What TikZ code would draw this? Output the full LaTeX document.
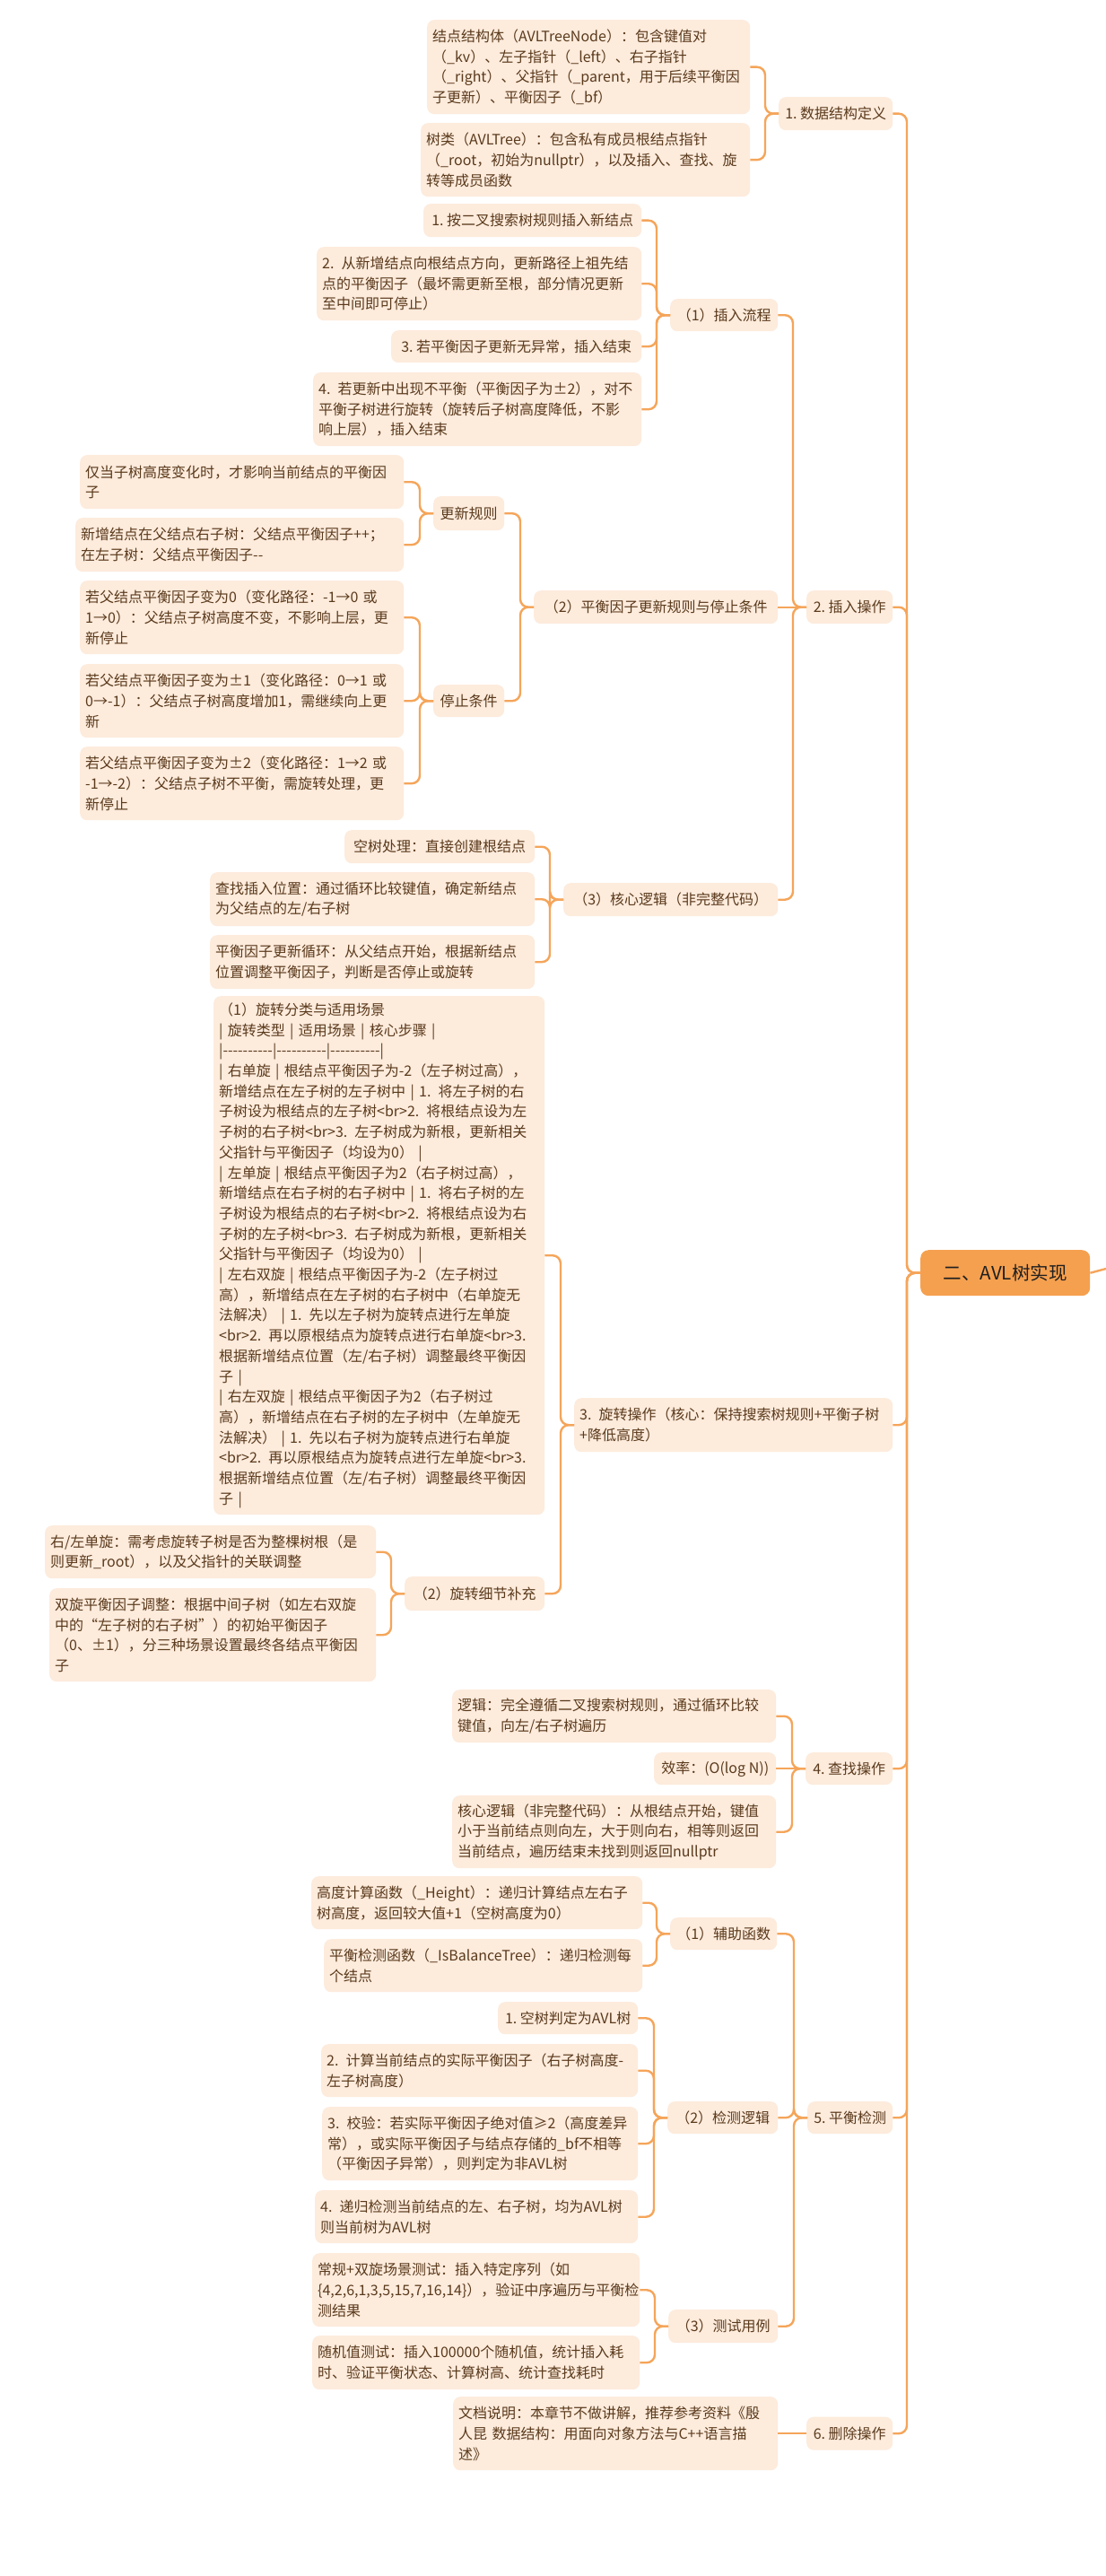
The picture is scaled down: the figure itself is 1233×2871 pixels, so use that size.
\documentclass[tikz,border=0pt]{standalone}
\usepackage{fontspec}
\newfontfamily\cjk[Ligatures=TeXOff]{Noto Sans CJK SC}
\definecolor{boxfill}{HTML}{FDEBDC}
\definecolor{txt}{HTML}{5A3A1C}
\definecolor{lnc}{HTML}{F5A55A}
\definecolor{rootfill}{HTML}{F5A04F}
\tikzset{
  box/.style={fill=boxfill, rounded corners=8pt, inner xsep=6pt, inner ysep=2pt,
    text=txt, font=\cjk\fontsize{16}{22.7}\selectfont},
  rootbox/.style={fill=rootfill, rounded corners=9pt, inner sep=4pt, align=center,
    text=black!88, font=\cjk\fontsize{20.5}{26}\selectfont},
  conn/.style={draw=lnc, line width=2.4pt, rounded corners=9pt}
}
% multi-line box: left, top, right, bottom
\newcommand{\bx}[6]{%
  \pgfmathsetmacro{\bxw}{#4-#2-12}%
  \pgfmathsetmacro{\bxh}{#5-#3}%
  \node[box, align=left, anchor=north west, text width=\bxw pt, minimum height=\bxh pt] (#1) at (#2,#3) {#6};}
% single-line box, centred text
\newcommand{\bs}[6]{%
  \pgfmathsetmacro{\bxw}{#4-#2}%
  \pgfmathsetmacro{\bxh}{#5-#3}%
  \node[box, align=center, anchor=north west, minimum width=\bxw pt, minimum height=\bxh pt] (#1) at (#2,#3) {#6};}
\newcommand{\cn}[2]{\draw[conn] (#1.east) -| ([xshift=-15pt]#2.west) -- (#2.west);}
\newcommand{\cnh}[2]{\draw[conn] (#1.east) -- (#1.east -| #2.west);}
\begin{document}
\begin{tikzpicture}[x=1pt,y=-1pt]
\fill[white] (0,0) rectangle (1233,2871);
\useasboundingbox (0,0) rectangle (1233,2871);

% root
\node[rootbox, anchor=north west, minimum width=189pt, minimum height=51pt] (root) at (1026,1393) {二、AVL树实现};
\coordinate (rootout) at (1233,1414);

% level 1
\bs{L1}{868}{108}{995}{145}{1.~数据结构定义}
\bs{L2}{899}{658}{995}{695}{2.~插入操作}
\bx{L3}{640}{1558}{995}{1618}{3. 旋转操作（核心：保持搜索树规则+平衡子树\\+降低高度）}
\bs{L4}{898}{1953}{995}{1989}{4.~查找操作}
\bs{L5}{900}{2342}{995}{2378}{5.~平衡检测}
\bs{L6}{899}{2693.5}{995}{2730.5}{6.~删除操作}

% 1. 数据结构定义
\bx{A1}{476}{22}{836}{127}{结点结构体（AVLTreeNode）：包含键值对\\（\_kv）、左子指针（\_left）、右子指针\\（\_right）、父指针（\_parent，用于后续平衡因\\子更新）、平衡因子（\_bf）}
\bx{A2}{469}{137}{836}{219}{树类（AVLTree）：包含私有成员根结点指针\\（\_root，初始为nullptr），以及插入、查找、旋\\转等成员函数}

% 2. 插入操作
\bs{P1}{747}{333}{867}{369}{（1）插入流程}
\bs{P2}{595}{658}{867}{695}{（2）平衡因子更新规则与停止条件}
\bs{P3}{628}{984}{867}{1021}{（3）核心逻辑（非完整代码）}

\bs{B1}{472}{227}{715}{264}{1.~按二叉搜索树规则插入新结点}
\bx{B2}{353}{275}{715}{357}{2. 从新增结点向根结点方向，更新路径上祖先结\\点的平衡因子（最坏需更新至根，部分情况更新\\至中间即可停止）}
\bs{B3}{436}{368}{715}{404}{3.~若平衡因子更新无异常，插入结束}
\bx{B4}{349}{415}{715}{497}{4. 若更新中出现不平衡（平衡因子为±2），对不\\平衡子树进行旋转（旋转后子树高度降低，不影\\响上层），插入结束}

\bs{Q1}{483}{553}{562}{591}{更新规则}
\bs{Q2}{483}{763}{562}{799}{停止条件}
\bx{C1}{89}{507}{450}{567}{仅当子树高度变化时，才影响当前结点的平衡因\\子}
\bx{C2}{84}{577}{450}{637}{新增结点在父结点右子树：父结点平衡因子++；\\在左子树：父结点平衡因子--}
\bx{C3}{89}{647}{450}{729}{若父结点平衡因子变为0（变化路径：-1→0 或\\1→0）：父结点子树高度不变，不影响上层，更\\新停止}
\bx{C4}{89}{740}{450}{822}{若父结点平衡因子变为±1（变化路径：0→1 或\\0→-1）：父结点子树高度增加1，需继续向上更\\新}
\bx{C5}{89}{832}{450}{914}{若父结点平衡因子变为±2（变化路径：1→2 或\\-1→-2）：父结点子树不平衡，需旋转处理，更\\新停止}

\bs{D1}{384}{925}{596}{962}{空树处理：直接创建根结点}
\bx{D2}{234}{972}{596}{1032}{查找插入位置：通过循环比较键值，确定新结点\\为父结点的左/右子树}
\bx{D3}{234}{1042}{596}{1102}{平衡因子更新循环：从父结点开始，根据新结点\\位置调整平衡因子，判断是否停止或旋转}

% 3. 旋转操作
\bx{R1}{238}{1110}{607}{1688}{（1）旋转分类与适用场景\\| 旋转类型 | 适用场景 | 核心步骤 |\\|----------|----------|----------|\\| 右单旋 | 根结点平衡因子为-2（左子树过高），\\新增结点在左子树的左子树中 | 1. 将左子树的右\\子树设为根结点的左子树<br>2. 将根结点设为左\\子树的右子树<br>3. 左子树成为新根，更新相关\\父指针与平衡因子（均设为0） |\\| 左单旋 | 根结点平衡因子为2（右子树过高），\\新增结点在右子树的右子树中 | 1. 将右子树的左\\子树设为根结点的右子树<br>2. 将根结点设为右\\子树的左子树<br>3. 右子树成为新根，更新相关\\父指针与平衡因子（均设为0） |\\| 左右双旋 | 根结点平衡因子为-2（左子树过\\高），新增结点在左子树的右子树中（右单旋无\\法解决） | 1. 先以左子树为旋转点进行左单旋\\<br>2. 再以原根结点为旋转点进行右单旋<br>3.\\根据新增结点位置（左/右子树）调整最终平衡因\\子 |\\| 右左双旋 | 根结点平衡因子为2（右子树过\\高），新增结点在右子树的左子树中（左单旋无\\法解决） | 1. 先以右子树为旋转点进行右单旋\\<br>2. 再以原根结点为旋转点进行左单旋<br>3.\\根据新增结点位置（左/右子树）调整最终平衡因\\子 |}
\bs{R2}{451}{1757}{607}{1795}{（2）旋转细节补充}
\bx{F1}{50}{1700}{419}{1759}{右/左单旋：需考虑旋转子树是否为整棵树根（是\\则更新\_root），以及父指针的关联调整}
\bx{F2}{55}{1770}{419}{1874}{双旋平衡因子调整：根据中间子树（如左右双旋\\中的“左子树的右子树”）的初始平衡因子\\（0、±1），分三种场景设置最终各结点平衡因\\子}

% 4. 查找操作
\bx{G1}{504}{1883}{865}{1942}{逻辑：完全遵循二叉搜索树规则，通过循环比较\\键值，向左/右子树遍历}
\bs{G2}{729}{1953}{865}{1989}{效率：(O(log~N))}
\bx{G3}{504}{2001}{865}{2082}{核心逻辑（非完整代码）：从根结点开始，键值\\小于当前结点则向左，大于则向右，相等则返回\\当前结点，遍历结束未找到则返回nullptr}

% 5. 平衡检测
\bs{S1}{747}{2137}{866}{2173}{（1）辅助函数}
\bs{S2}{744}{2342}{867}{2378}{（2）检测逻辑}
\bs{S3}{745}{2574}{867}{2611}{（3）测试用例}
\bx{H1}{347}{2091}{716}{2150}{高度计算函数（\_Height）：递归计算结点左右子\\树高度，返回较大值+1（空树高度为0）}
\bx{H2}{361}{2161}{716}{2220}{平衡检测函数（\_IsBalanceTree）：递归检测每\\个结点}
\bs{I1}{555}{2231}{711}{2267}{1.~空树判定为AVL树}
\bx{I2}{358}{2278}{711}{2337}{2. 计算当前结点的实际平衡因子（右子树高度-\\左子树高度）}
\bx{I3}{359}{2348}{711}{2430}{3. 校验：若实际平衡因子绝对值≥2（高度差异\\常），或实际平衡因子与结点存储的\_bf不相等\\（平衡因子异常），则判定为非AVL树}
\bx{I4}{351}{2441}{711}{2500}{4. 递归检测当前结点的左、右子树，均为AVL树\\则当前树为AVL树}
\bx{J1}{348}{2511}{713}{2593}{常规+双旋场景测试：插入特定序列（如\\\{4,2,6,1,3,5,15,7,16,14\}），验证中序遍历与平衡检\\测结果}
\bx{J2}{348}{2603}{713}{2663}{随机值测试：插入100000个随机值，统计插入耗\\时、验证平衡状态、计算树高、统计查找耗时}

% 6. 删除操作
\bx{K1}{505}{2671}{867}{2753}{文档说明：本章节不做讲解，推荐参考资料《殷\\人昆 数据结构：用面向对象方法与C++语言描\\述》}

% connectors
\draw[conn] (root.east) -- (rootout);
\cn{L1}{root}\cn{L2}{root}\cn{L3}{root}\cn{L4}{root}\cn{L5}{root}\cn{L6}{root}
\cn{A1}{L1}\cn{A2}{L1}
\cn{P1}{L2}\cnh{P2}{L2}\cn{P3}{L2}
\cn{B1}{P1}\cn{B2}{P1}\cn{B3}{P1}\cn{B4}{P1}
\cn{Q1}{P2}\cn{Q2}{P2}
\cn{C1}{Q1}\cn{C2}{Q1}
\cn{C3}{Q2}\cn{C4}{Q2}\cn{C5}{Q2}
\cn{D1}{P3}\cn{D2}{P3}\cn{D3}{P3}
\cn{R1}{L3}\cn{R2}{L3}
\cn{F1}{R2}\cn{F2}{R2}
\cn{G1}{L4}\cnh{G2}{L4}\cn{G3}{L4}
\cn{S1}{L5}\cn{S2}{L5}\cn{S3}{L5}
\cn{H1}{S1}\cn{H2}{S1}
\cn{I1}{S2}\cn{I2}{S2}\cn{I3}{S2}\cn{I4}{S2}
\cn{J1}{S3}\cn{J2}{S3}
\cnh{K1}{L6}
\end{tikzpicture}
\end{document}
